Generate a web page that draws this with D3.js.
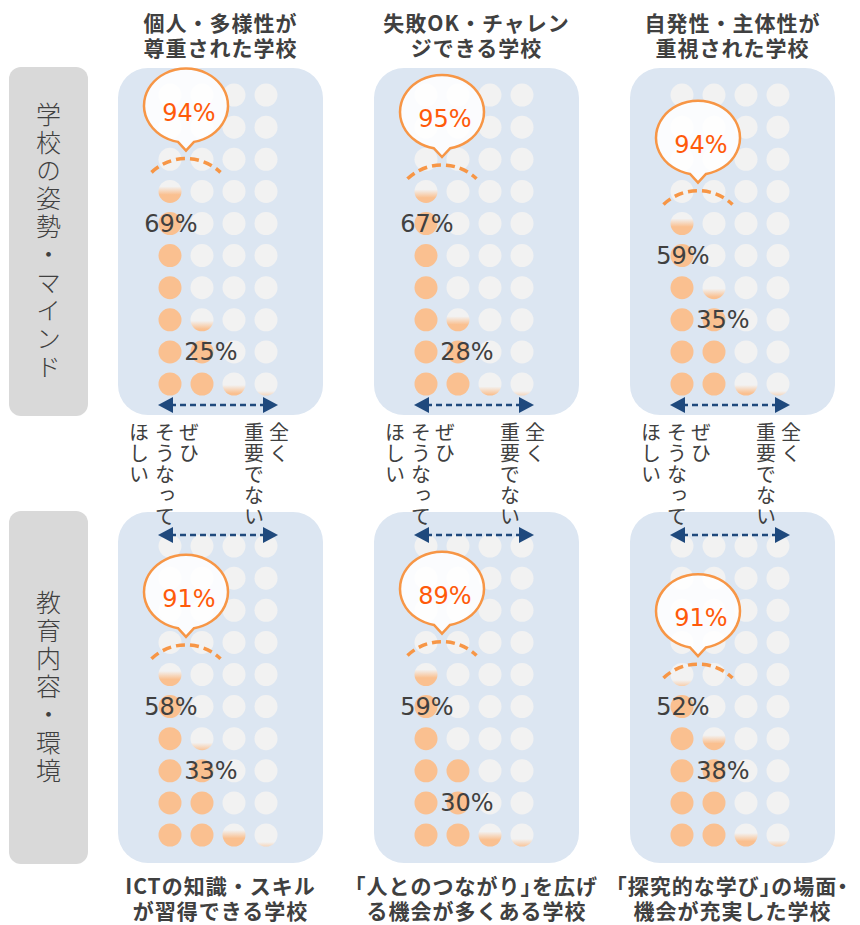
<!DOCTYPE html>
<html>
<head>
<meta charset="utf-8">
<script src="https://cdn.jsdelivr.net/npm/d3@7"></script>
<style>
  body { margin: 0; background: #fff; }
  svg { display: block; }
</style>
</head>
<body>
<svg id="chart" width="860" height="925"></svg>
<script>
// datos
const topTitles = [["個人・多様性が", "尊重された学校"], ["失敗OK・チャレン", "ジできる学校"], ["自発性・主体性が", "重視された学校"]];
const bottomTitles = [["ICTの知識・スキル", "が習得できる学校"], ["「人とのつながり」を広げ", "る機会が多くある学校"], ["「探究的な学び」の場面・", "機会が充実した学校"]];
const groupLabels = ["学校の姿勢・マインド", "教育内容・環境"];
const leftEnd = ["ぜひ", "そうなって", "ほしい"];
const rightEnd = ["全く", "重要でない"];
const top2 = [94, 95, 94, 91, 89, 91];
const veryMuch = [69, 67, 59, 58, 59, 52];
const somewhat = [25, 28, 35, 33, 30, 38];
const notMuch = [5, 4, 5, 9, 8, 7];
const notAtAll = [1, 1, 1, 1, 3, 2];

const ORANGE = "#fac090", GRAY = "#f2f2f2", PANEL = "#dce6f2", NAVY = "#1f497d";
const TEXT = "#404040", ACCENT = "#f79646", CALLOUT = "#ff5a0a";
const JP = "'Noto Sans CJK JP', 'Noto Sans', sans-serif";
const NUM = "'DejaVu Sans', sans-serif";

const svg = d3.select("#chart");
const defs = svg.append("defs");

// escalas de layout
const panelX = d3.scaleLinear().domain([0, 2]).range([118, 630]);
const panelW = 205;
const rowTop = [68, 512], rowBottom = [415, 863];
const dotBottom = [384, 835];
const pitchY = 32.1;
const dotX = d3.scalePoint().domain([0, 1, 2, 3]).range([52, 148]);
const R = 11.5;

const panels = d3.range(6).map(i => ({
    i: i,
    row: Math.floor(i / 3),
    col: i % 3,
    title: i < 3 ? topTitles[i] : bottomTitles[i - 3],
    vals: [veryMuch[i], somewhat[i], notMuch[i], notAtAll[i]],
    top2: top2[i]
}));

// etiquetas de grupo (izquierda)
groupLabels.forEach((label, r) => {
    svg.append("rect")
        .attr("x", 9).attr("y", rowTop[r] - 1)
        .attr("width", 79).attr("height", rowBottom[r] - rowTop[r] + 2)
        .attr("rx", 12)
        .attr("fill", "#d9d9d9");
    svg.append("text")
        .attr("x", 48.5)
        .attr("y", (rowTop[r] + rowBottom[r]) / 2)
        .attr("text-anchor", "middle")
        .style("writing-mode", "vertical-rl")
        .style("letter-spacing", "3px")
        .attr("font-family", JP)
        .attr("font-size", 25)
        .attr("font-weight", 300)
        .attr("fill", TEXT)
        .text(label);
});

const ip = d3.interpolateRgb(GRAY, ORANGE);

panels.forEach(p => {
    const x0 = panelX(p.col);
    const g = svg.append("g").attr("transform", `translate(${x0},0)`);
    const yDot = d3.scaleLinear().domain([0, 9]).range([dotBottom[p.row], dotBottom[p.row] - 9 * pitchY]);
    const yVal = d3.scaleLinear().domain([0, 100])
        .range([dotBottom[p.row] + pitchY / 2, dotBottom[p.row] + pitchY / 2 - 10 * pitchY]);

    // fondo
    g.append("rect")
        .attr("x", 0).attr("y", rowTop[p.row])
        .attr("width", panelW).attr("height", rowBottom[p.row] - rowTop[p.row])
        .attr("rx", 30)
        .attr("fill", PANEL);

    // puntos
    const dots = [];
    p.vals.forEach((v, c) => {
        d3.range(10).forEach(k => {
            const f = Math.max(0, Math.min(1, v / 10 - k));
            dots.push({ c: c, k: k, f: f });
        });
    });
    dots.forEach(d => {
        if (d.f > 0.001 && d.f < 0.999) {
            d.id = `grad-${p.i}-${d.c}-${d.k}`;
            const mid = 1.05 - 0.65 * d.f, hw = 0.18;
            const a = mid - hw, b = mid + hw;
            const grad = defs.append("linearGradient")
                .attr("id", d.id)
                .attr("x1", 0).attr("y1", 0).attr("x2", 0).attr("y2", 1);
            [0, a, b, 1].map(o => Math.max(0, Math.min(1, o))).forEach(o => {
                const t = Math.max(0, Math.min(1, (o - a) / (b - a)));
                grad.append("stop").attr("offset", o).attr("stop-color", ip(t));
            });
        }
    });
    g.selectAll("circle.dot")
        .data(dots)
        .enter()
        .append("circle")
        .attr("class", "dot")
        .attr("cx", d => dotX(d.c))
        .attr("cy", d => yDot(d.k))
        .attr("r", R)
        .attr("fill", d => d.id ? `url(#${d.id})` : (d.f >= 0.999 ? ORANGE : GRAY));

    // flecha de escala
    const ay = p.row === 0 ? dotBottom[0] + 21 : yDot(9) - 11;
    const ax1 = dotX(0) - 12, ax2 = dotX(3) + 12;
    g.append("line")
        .attr("x1", ax1 + 12).attr("x2", ax2 - 12)
        .attr("y1", ay).attr("y2", ay)
        .attr("stroke", NAVY)
        .attr("stroke-width", 2.5)
        .attr("stroke-dasharray", "6,4");
    g.append("path")
        .attr("d", `M${ax1},${ay} L${ax1 + 15},${ay - 8} L${ax1 + 15},${ay + 8} Z`)
        .attr("fill", NAVY);
    g.append("path")
        .attr("d", `M${ax2},${ay} L${ax2 - 15},${ay - 8} L${ax2 - 15},${ay + 8} Z`)
        .attr("fill", NAVY);

    // arco punteado y globo
    const cx = (dotX(0) + dotX(1)) / 2;
    const peak = yVal(p.vals[0]) - 20;
    const arcR = 50, ang = 0.762;
    const arcPath = d3.path();
    arcPath.arc(cx, peak + arcR, arcR, -Math.PI / 2 - ang, -Math.PI / 2 + ang);
    g.append("path")
        .attr("d", arcPath.toString())
        .attr("fill", "none")
        .attr("stroke", ACCENT)
        .attr("stroke-width", 3.5)
        .attr("stroke-dasharray", "9,5");

    const tip = peak - 8;
    const cy = tip - 45;
    const rxB = 42, ryB = 37, bw = 8;
    const by = cy + ryB * Math.sqrt(1 - (bw / rxB) * (bw / rxB));
    g.append("path")
        .attr("d", `M${cx + bw},${by} A${rxB},${ryB} 0 1 0 ${cx - bw},${by} L${cx},${tip} Z`)
        .attr("fill", "#ffffff")
        .attr("fill-opacity", 0.88)
        .attr("stroke", ACCENT)
        .attr("stroke-width", 2.5);
    g.append("text")
        .attr("x", cx + 3).attr("y", cy + 15)
        .attr("text-anchor", "middle")
        .attr("font-family", NUM)
        .attr("font-size", 24)
        .attr("fill", CALLOUT)
        .text(p.top2 + "%");

    // etiquetas de porcentaje
    [0, 1].forEach(c => {
        const v = p.vals[c];
        g.append("text")
            .attr("x", dotX(c) + (c === 0 ? 1 : 9))
            .attr("y", yDot(Math.ceil(v / 10) - 2) - 1 + 9)
            .attr("text-anchor", "middle")
            .attr("font-family", NUM)
            .attr("font-size", 24)
            .attr("fill", TEXT)
            .text(v + "%");
    });

    // título: un solo texto con dos líneas (corchetes a media anchura)
    const base = p.row === 0 ? 30.5 : 894;
    const title = g.append("text")
        .attr("y", base)
        .attr("text-anchor", "middle")
        .attr("font-family", JP)
        .attr("font-size", 21)
        .attr("font-weight", 700)
        .style("letter-spacing", "1px")
        .attr("fill", TEXT);
    if (p.title.some(l => /[「」]/.test(l))) title.style("font-feature-settings", '"halt"');
    p.title.forEach((line, j) => {
        title.append("tspan")
            .attr("x", panelW / 2)
            .attr("dy", j === 0 ? 0 : 25)
            .text(line);
    });
});

// textos verticales de los extremos, encima de los paneles
panels.filter(p => p.row === 0).forEach(p => {
    const g = svg.append("g").attr("transform", `translate(${panelX(p.col)},0)`);
    const vx = [dotX(0) + 19, dotX(0) - 5, dotX(0) - 31];
    const rx = [dotX(3) + 13, dotX(3) - 12];
    const items = leftEnd.map((s, j) => ({ s: s, x: vx[j] }))
        .concat(rightEnd.map((s, j) => ({ s: s, x: rx[j] })));
    g.selectAll("text.end")
        .data(items)
        .enter()
        .append("text")
        .attr("class", "end")
        .attr("x", d => d.x).attr("y", 422)
        .style("writing-mode", "vertical-rl")
        .style("letter-spacing", "1px")
        .attr("font-family", JP)
        .attr("font-size", 20)
        .attr("fill", TEXT)
        .text(d => d.s);
});
</script>
</body>
</html>
